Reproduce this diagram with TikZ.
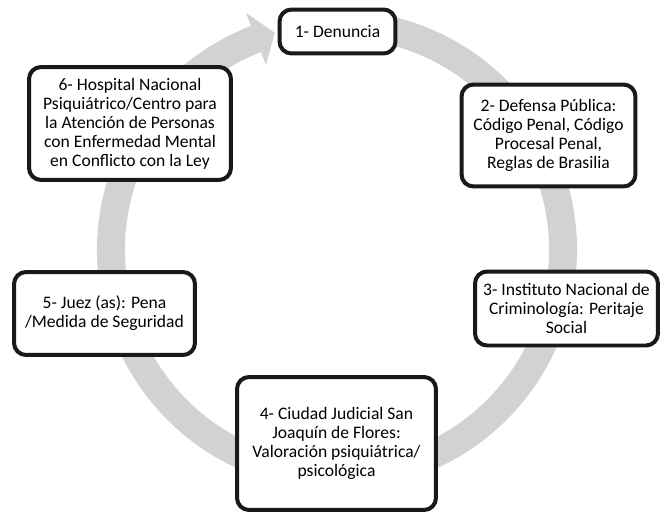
\documentclass[tikz,border=0pt]{standalone}
\usepackage{fontspec}
\setmainfont{Carlito}
\definecolor{anillo}{RGB}{209,210,212}
\tikzset{etapa/.style={draw=black!90, line width=0.08cm, rounded corners=0.24cm, fill=white,
    align=center, inner sep=0pt, font=\fontsize{10}{10.8}\selectfont}}

\begin{document}
\begin{tikzpicture}[x=0.02cm, y=0.02cm]

\useasboundingbox (0,0) rectangle (662,-514);
\coordinate (ctr) at (337,-250);

% gray ring with its arrow head at the top
\draw[anillo, line width=0.56cm] ([shift={(79:226)}]ctr) arc[start angle=79, end angle=-250, radius=226];
\fill[anillo] ([shift={(111:254)}]ctr) -- ([shift={(106:226)}]ctr) -- ([shift={(111:198)}]ctr) -- cycle;

% stages
\node[etapa, minimum width=2.32cm, minimum height=0.88cm] (denuncia) at (337.5,-31.5) {1- Denuncia};
\node[etapa, minimum width=3.48cm, minimum height=2.04cm] (defensa) at (548.5,-135.5)
    {2- Defensa Pública:\\Código Penal, Código\\Procesal Penal,\\Reglas de Brasilia};
\node[etapa, minimum width=3.66cm, minimum height=1.48cm] (instituto) at (566.5,-308.5)
    {3- Instituto Nacional de\\Criminología: Peritaje\\Social};
\node[etapa, minimum width=3.98cm, minimum height=2.66cm] (ciudad) at (336.5,-443.5)
    {4- Ciudad Judicial San\\Joaquín de Flores:\\Valoración psiquiátrica/\\psicológica};
\node[etapa, minimum width=3.62cm, minimum height=1.66cm] (juez) at (104.5,-313.5)
    {5- Juez (as): Pena\\/Medida de Seguridad};
\node[etapa, minimum width=4.04cm, minimum height=2.26cm] (hospital) at (130,-123.5)
    {6- Hospital Nacional\\Psiquiátrico/Centro para\\la Atención de Personas\\con Enfermedad Mental\\en Conflicto con la Ley};

\end{tikzpicture}
\end{document}
